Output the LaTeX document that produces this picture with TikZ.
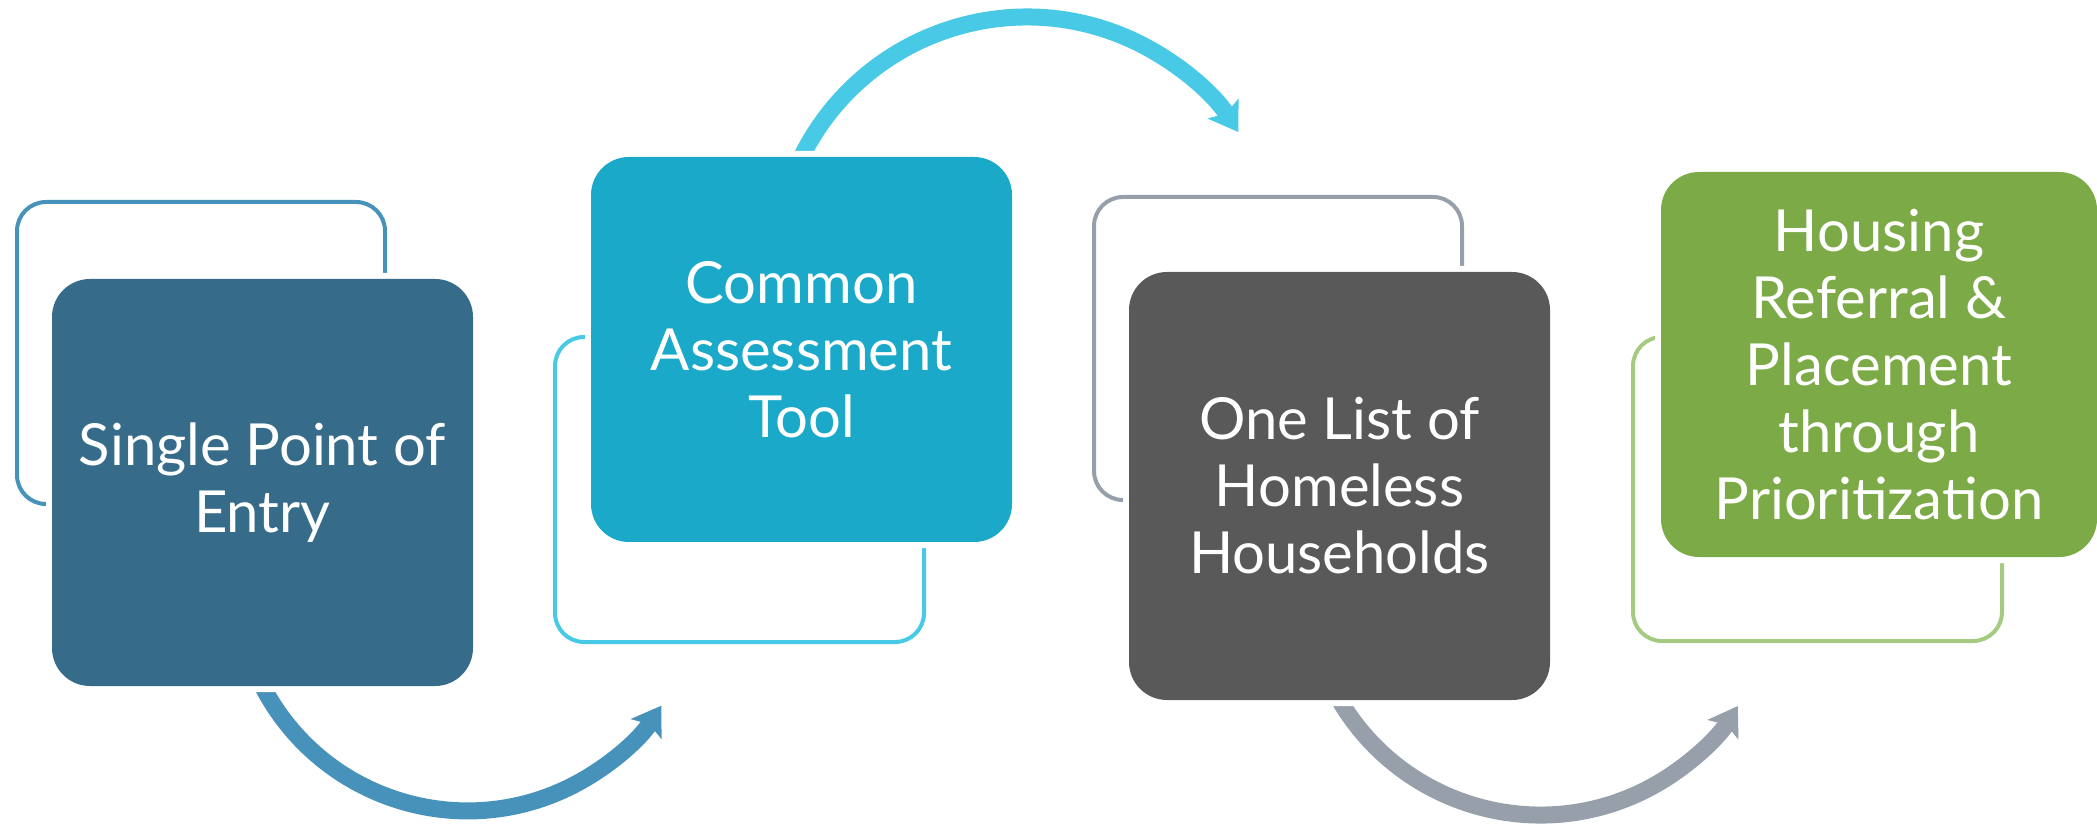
\documentclass[tikz,border=0pt]{standalone}
\usepackage{fontspec}
\setmainfont{Lato}
\usetikzlibrary{arrows.meta,backgrounds}
\definecolor{entryfill}{HTML}{366C8A}
\definecolor{entryline}{HTML}{4692BA}
\definecolor{assessfill}{HTML}{1BA9CA}
\definecolor{assessline}{HTML}{48CAE6}
\definecolor{listfill}{HTML}{595959}
\definecolor{listline}{HTML}{97A0AA}
\definecolor{housefill}{HTML}{7BAA47}
\definecolor{houseline}{HTML}{A5CB82}
\begin{document}
\begin{tikzpicture}[x=1pt, y=1pt,
    >={Stealth[length=28pt,width=37pt,inset=6pt,line width=0pt]},
    stepbox/.style={rectangle, rounded corners=38pt, minimum width=421pt, inner sep=0pt,
        text=white, align=center, font=\fontsize{58}{67}\selectfont,
        preaction={draw=white, line width=12pt}},
    frame/.style={line width=4pt, rounded corners=29pt},
    flow/.style={->, line width=17pt}]
\useasboundingbox (0,0) rectangle (2097,823);
\node[stepbox, fill=entryfill, minimum height=407pt] (entry) at (262.5,340.5) {Single Point of\\Entry};
\node[stepbox, fill=assessfill, minimum height=385pt] (assess) at (801.5,473.5) {Common\\Assessment\\Tool};
\node[stepbox, fill=listfill, minimum height=428pt] (list) at (1339.5,337) {One List of\\Homeless\\Households};
\node[stepbox, fill=housefill, minimum width=436pt, minimum height=385pt] (housing) at (1879,458.5) {Housing\\Referral \&\\Placement\\through\\Prioritization};
\begin{scope}[on background layer]
\draw[frame, entryline] (17,319) rectangle (385,621);
\draw[frame, assessline] (555,181) rectangle (924,486);
\draw[frame, listline] (1094,323) rectangle (1462,626);
\draw[frame, houseline] (1633,182) rectangle (2002,486);
\draw[flow, entryline] (entry.south) arc[start angle=207.4, end angle=327, radius=231] coordinate (toassess);
\draw[flow, assessline] (assess.north) arc[start angle=153.6, end angle=32.9, radius=251.7] coordinate (tolist);
\draw[flow, listline] (list.south) arc[start angle=210.5, end angle=327.8, radius=233.2] coordinate (tohousing);
\end{scope}
\end{tikzpicture}
\end{document}
